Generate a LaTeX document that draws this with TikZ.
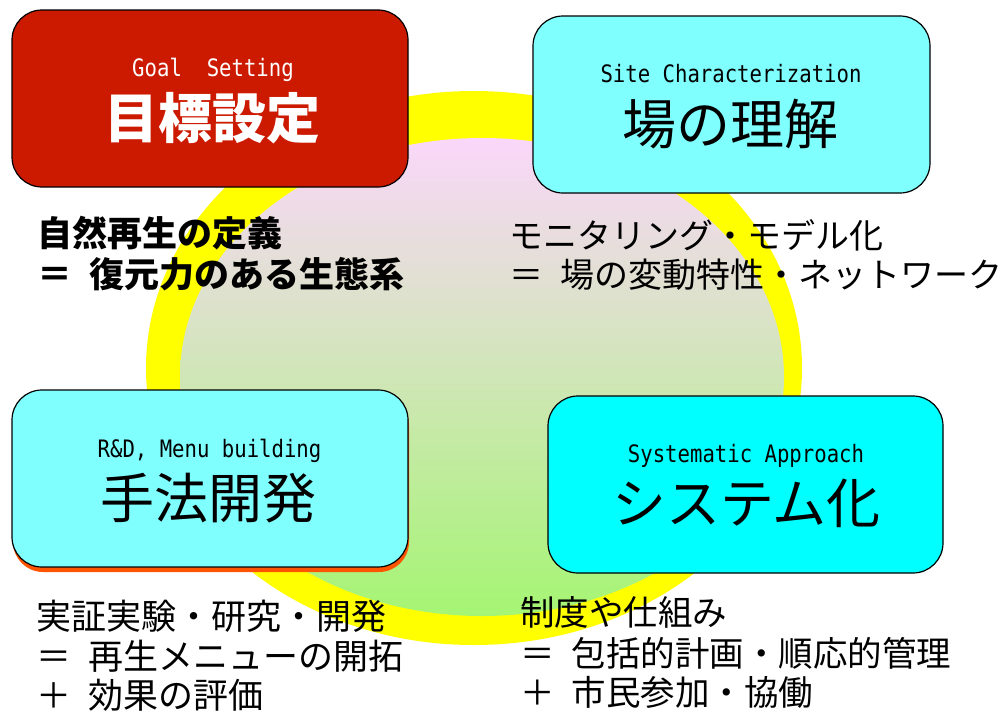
\documentclass[tikz,border=0pt]{standalone}
\usepackage{fontspec}
\usetikzlibrary{shadows}
\newfontfamily\jpfont{Noto Sans CJK JP}
\newfontfamily\enfont[FakeStretch=0.86]{DejaVu Sans Mono}
\definecolor{goalred}{RGB}{204,26,0}
\definecolor{sitecyan}{RGB}{128,255,255}
\definecolor{syscyan}{RGB}{0,255,255}
\definecolor{ringyellow}{RGB}{255,255,0}
\definecolor{toppink}{RGB}{250,215,250}
\definecolor{midgrey}{RGB}{226,228,214}
\definecolor{bottomgreen}{RGB}{165,245,115}
\definecolor{shadoworange}{RGB}{255,85,0}

\begin{document}
\begin{tikzpicture}[x=1pt,y=-1pt,
  box/.style={draw=black,line width=1.2pt,rounded corners=30pt,
    minimum width=396pt,minimum height=177pt},
  entitle/.style={anchor=base,inner sep=0pt,font=\enfont\fontsize{24}{24}\selectfont},
  jptitle/.style={anchor=base,inner sep=0pt,font=\jpfont\fontsize{54}{54}\selectfont},
  note/.style={anchor=base west,inner sep=0pt,font=\jpfont\fontsize{35}{35}\selectfont}]
\useasboundingbox (0,0) rectangle (1004,713);

\fill[ringyellow] (474,368) ellipse (328 and 277);
\shade[top color=toppink,middle color=midgrey,bottom color=bottomgreen]
	(482,377) ellipse (302 and 239);

\node[box,fill=goalred] (goal) at (210,98.5) {};
\node[box,fill=sitecyan,minimum width=397pt] (site) at (731.5,104.5) {};
\node[box,fill=sitecyan,
	drop shadow={shadow xshift=1pt,shadow yshift=-5pt,fill=shadoworange,opacity=1}]
	(rd) at (210,478.5) {};
\node[box,fill=syscyan,minimum width=395pt] (sys) at (745.5,484.5) {};

\node[entitle,text=white] (goalEn) at (213,76) {Goal\ \ Setting};
\node[jptitle,text=white] (goalJp) at (212.5,138) {\bfseries 目標設定};
\node[entitle] (siteEn) at (731,82) {Site Characterization};
\node[jptitle] (siteJp) at (730,144.5) {場の理解};
\node[entitle] (rdEn) at (209.5,457) {R\&D, Menu building};
\node[jptitle] (rdJp) at (208.5,518.5) {手法開発};
\node[entitle] (sysEn) at (746,462) {Systematic Approach};
\node[jptitle] (sysJp) at (746.5,523.5) {システム化};

\node[note] (goalA) at (37,246) {\bfseries 自然再生の定義};
\node[note] (goalB) at (37,287) {\bfseries ＝\enspace 復元力のある生態系};

\node[note,font=\jpfont\fontsize{34}{34}\selectfont] (siteA) at (509,248)
	{モニタリング・モデル化};
\node[note,font=\jpfont\fontsize{34}{34}\selectfont] (siteB) at (509,287)
	{＝\enspace 場の変動特性・ネットワーク};

\node[note] (rdA) at (36,629) {実証実験・研究・開発};
\node[note] (rdB) at (36,669) {＝\enspace 再生メニューの開拓};
\node[note] (rdC) at (36,708) {＋\enspace 効果の評価};

\node[note,font=\jpfont\fontsize{34.5}{34.5}\selectfont] (sysA) at (520,625) {制度や仕組み};
\node[note,font=\jpfont\fontsize{34.5}{34.5}\selectfont] (sysB) at (520,666) {＝\enspace 包括的計画・順応的管理};
\node[note,font=\jpfont\fontsize{34.5}{34.5}\selectfont] (sysC) at (520,705) {＋\enspace 市民参加・協働};

\end{tikzpicture}
\end{document}
